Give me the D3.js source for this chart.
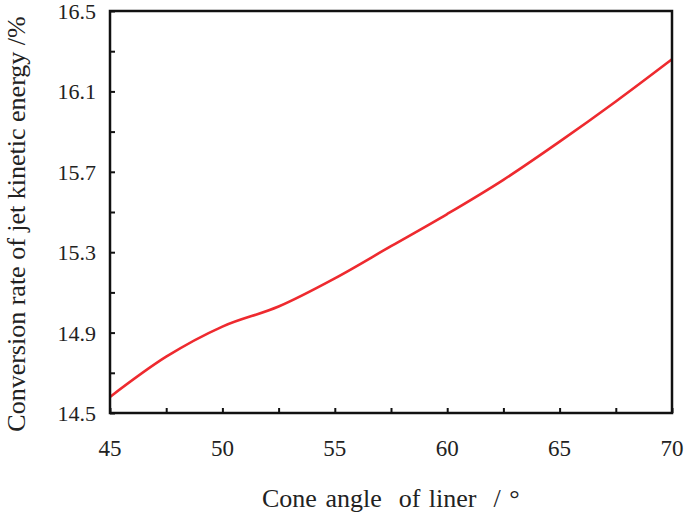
<!DOCTYPE html>
<html>
<head>
<meta charset="utf-8">
<script src="https://cdn.jsdelivr.net/npm/d3@7"></script>
<style>
  body { margin: 0; background: #fff; }
</style>
</head>
<body>
<script>
// Data
const angles = [45, 47.5, 50, 52.5, 55, 57.5, 60, 62.5, 65, 67.5, 70];
const rates = [14.58, 14.78, 14.93, 15.03, 15.17, 15.33, 15.49, 15.66, 15.85, 16.05, 16.26];
const xTicks = [45, 50, 55, 60, 65, 70];
const yTicks = [14.5, 14.9, 15.3, 15.7, 16.1, 16.5];
const xMinor = [47.5, 52.5, 57.5, 62.5, 67.5];
const yMinor = [14.7, 15.1, 15.5, 15.9, 16.3];

const width = 685, height = 516;
const margin = {top: 11, right: 13, bottom: 103, left: 110};
const serif = "Liberation Serif";

const svg = d3.select("body").append("svg")
    .attr("width", width)
    .attr("height", height);

const x = d3.scaleLinear().domain([45, 70]).range([margin.left, width - margin.right]);
const y = d3.scaleLinear().domain([14.5, 16.5]).range([height - margin.bottom, margin.top]);

// Curve
const line = d3.line()
    .x((d, i) => x(angles[i]))
    .y((d) => y(d))
    .curve(d3.curveMonotoneX);

svg.append("path")
    .datum(rates)
    .attr("d", line)
    .attr("fill", "none")
    .attr("stroke", "#ee2a2f")
    .attr("stroke-width", 2.6);

// Frame
svg.append("rect")
    .attr("x", x(45))
    .attr("y", y(16.5))
    .attr("width", x(70) - x(45))
    .attr("height", y(14.5) - y(16.5))
    .attr("fill", "none")
    .attr("stroke", "#111")
    .attr("stroke-width", 2.5);

// Ticks point inward
const xAxis = svg.append("g")
    .attr("transform", `translate(0,${y(14.5)})`)
    .call(d3.axisTop(x).tickValues(xTicks.concat(xMinor)).tickSize(5).tickFormat(""));
xAxis.select(".domain").remove();
xAxis.selectAll("line").attr("stroke", "#111").attr("stroke-width", 2);

const yAxis = svg.append("g")
    .attr("transform", `translate(${x(45)},0)`)
    .call(d3.axisRight(y).tickValues(yTicks.concat(yMinor)).tickSize(5).tickFormat(""));
yAxis.select(".domain").remove();
yAxis.selectAll("line").attr("stroke", "#111").attr("stroke-width", 2);

// Tick labels
svg.selectAll("text.xlab")
    .data(xTicks)
    .join("text")
    .attr("class", "xlab")
    .attr("x", (d) => x(d))
    .attr("y", y(14.5) + 43)
    .attr("text-anchor", "middle")
    .style("font-family", serif)
    .attr("font-size", 23)
    .attr("fill", "#222")
    .text((d) => d);

svg.selectAll("text.ylab")
    .data(yTicks)
    .join("text")
    .attr("class", "ylab")
    .attr("x", x(45) - 14)
    .attr("y", (d) => y(d) + 8)
    .attr("text-anchor", "end")
    .style("font-family", serif)
    .attr("font-size", 22)
    .attr("fill", "#222")
    .text((d) => d.toFixed(1));

// Axis titles
svg.append("text")
    .attr("x", 262)
    .attr("y", 507)
    .style("font-family", serif)
    .attr("font-size", 26)
    .attr("word-spacing", 2)
    .attr("fill", "#222")
    .attr("xml:space", "preserve")
    .text("Cone angle  of liner  / °");

svg.append("text")
    .attr("transform", `translate(25,${224}) rotate(-90)`)
    .attr("text-anchor", "middle")
    .style("font-family", serif)
    .attr("font-size", 26)
    .attr("fill", "#222")
    .text("Conversion rate of jet kinetic energy /%");
</script>
</body>
</html>
